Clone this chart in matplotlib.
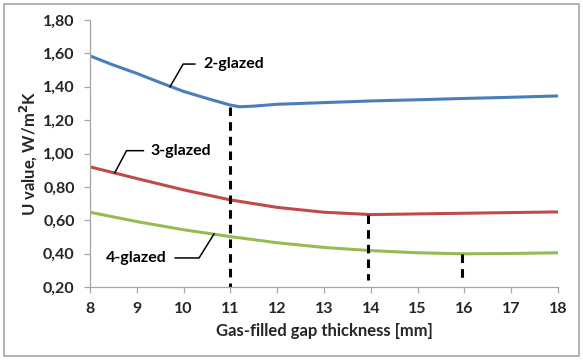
import matplotlib.pyplot as plt
from matplotlib.patches import Rectangle

# ---------------- DATOS ----------------
gap_2 = [8, 8.5, 9, 9.5, 10, 10.5, 11, 11.2, 11.5, 12, 13, 14, 15, 16, 17, 18]
u_2 = [1.585, 1.53, 1.48, 1.425, 1.372, 1.33, 1.29, 1.28, 1.284, 1.295, 1.305,
       1.315, 1.322, 1.330, 1.337, 1.345]

gap_3 = [8, 9, 10, 11, 12, 13, 14, 15, 16, 17, 18]
u_3 = [0.92, 0.85, 0.782, 0.722, 0.677, 0.648, 0.634, 0.638, 0.642, 0.646, 0.650]

gap_4 = [8, 9, 10, 11, 12, 13, 14, 15, 16, 17, 18]
u_4 = [0.648, 0.592, 0.543, 0.502, 0.465, 0.437, 0.418, 0.405, 0.399, 0.401, 0.405]

# optimos (lineas discontinuas)
opt_x = [11.0, 13.95, 15.95]
opt_top = [1.28, 0.634, 0.399]
opt_bottom = [0.20, 0.24, 0.24]

x_ticks = list(range(8, 19))
y_ticks = [0.20, 0.40, 0.60, 0.80, 1.00, 1.20, 1.40, 1.60, 1.80]
y_labels = ["0,20", "0,40", "0,60", "0,80", "1,00", "1,20", "1,40", "1,60", "1,80"]

plt.rcParams['font.family'] = ['Lato', 'DejaVu Sans']
plt.rcParams['font.weight'] = 'bold'

fig = plt.figure(figsize=(5.83, 3.6), dpi=100)
ax = fig.add_axes([0.1544, 0.2028, 0.8027, 0.7416])

# borde de la figura
fig.patches.append(Rectangle((0.007, 0.012), 0.986, 0.978, transform=fig.transFigure,
                             fill=False, edgecolor='#a6a6a6', linewidth=1.2))

ax.plot(gap_2, u_2, color='#4A7EBB', lw=2.2, solid_capstyle='butt')
ax.plot(gap_3, u_3, color='#BE4B48', lw=2.2, solid_capstyle='butt')
ax.plot(gap_4, u_4, color='#98B954', lw=2.2, solid_capstyle='butt')

for xv, yt, yb in zip(opt_x, opt_top, opt_bottom):
    ax.plot([xv, xv], [yt, yb], color='black', lw=2.2, dashes=(2.8, 2.0))

# etiquetas con linea guia
ax.plot([9.71, 9.99, 10.24], [1.40, 1.536, 1.536], color='black', lw=1.1)
ax.text(10.42, 1.536, "2-glazed", fontsize=11.5, fontweight='bold', va='center', ha='left')

ax.plot([8.53, 8.78, 9.14], [0.885, 1.017, 1.017], color='black', lw=1.1)
ax.text(9.30, 1.017, "3-glazed", fontsize=11.5, fontweight='bold', va='center', ha='left')

ax.plot([10.65, 10.33, 9.82], [0.518, 0.374, 0.374], color='black', lw=1.1)
ax.text(9.64, 0.374, "4-glazed", fontsize=11.5, fontweight='bold', va='center', ha='right')

ax.set_xlim(8, 18)
ax.set_ylim(0.20, 1.80)
ax.set_xticks(x_ticks)
ax.set_yticks(y_ticks)
ax.set_yticklabels(y_labels)

for s in ['top', 'right']:
    ax.spines[s].set_visible(False)
for s in ['left', 'bottom']:
    ax.spines[s].set_color('#a6a6a6')
    ax.spines[s].set_linewidth(0.9)

ax.tick_params(axis='both', colors='#a6a6a6', length=4, width=0.9, direction='out',
               labelsize=11.5, labelcolor='#262626')
ax.tick_params(axis='x', pad=7)
ax.tick_params(axis='y', pad=7)
for lbl in ax.get_xticklabels() + ax.get_yticklabels():
    lbl.set_fontweight('bold')

ax.set_xlabel("Gas-filled gap thickness [mm]", fontsize=12, fontweight='bold',
              color='#262626', labelpad=5)
ax.set_ylabel("U value, W/m$^\\mathbf{2}$K", fontsize=12, fontweight='bold',
              color='#262626', labelpad=2)

fig.savefig("out.png", dpi=100)
